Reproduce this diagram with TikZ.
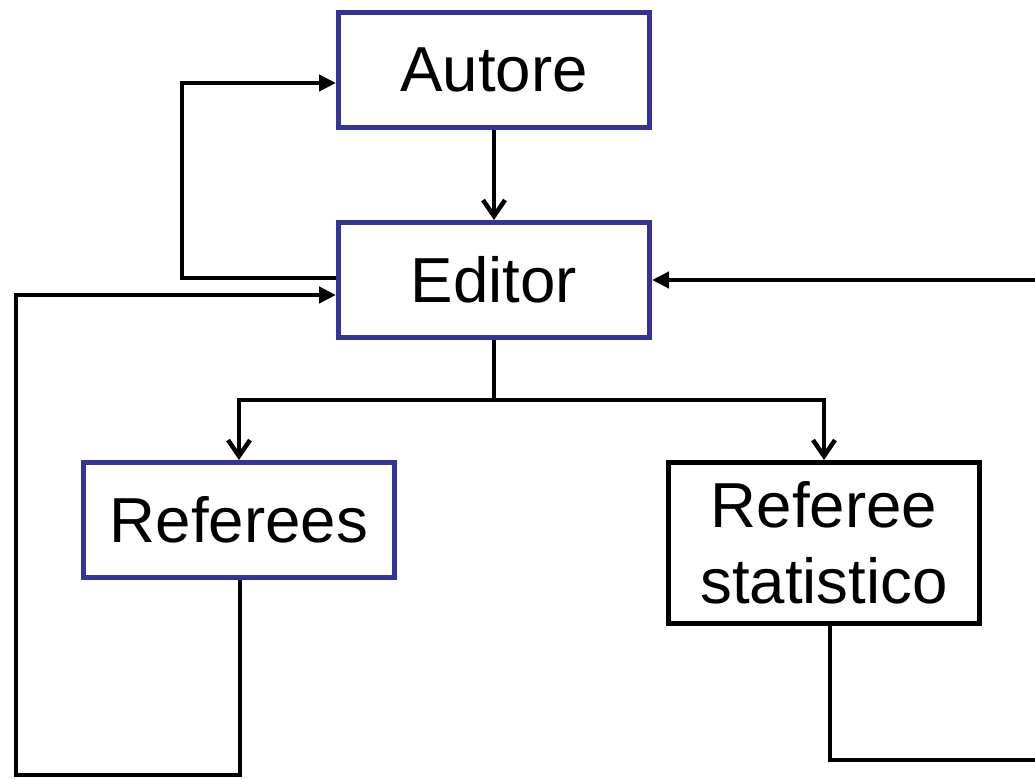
\documentclass[tikz,border=0pt]{standalone}
\usepackage{fontspec}
\setmainfont{Liberation Sans}
\usetikzlibrary{arrows.meta}
\definecolor{boxblue}{RGB}{51,51,153}
\begin{document}
\begin{tikzpicture}[x=0.02cm,y=-0.02cm,
  box/.style={draw=boxblue,line width=5*0.02cm,minimum width=311*0.02cm,
    minimum height=115*0.02cm,inner sep=0pt,align=center,
    font=\fontsize{36.2pt}{43.5pt}\selectfont},
  blackbox/.style={box,draw=black},
  link/.style={line width=4.5*0.02cm,line join=miter},
  filled/.style={link,-{Triangle[length=17*0.02cm,width=16*0.02cm]}},
  open/.style={link,-{Straight Barb[length=16*0.02cm,width=22*0.02cm,line width=4.5*0.02cm]}}]
\useasboundingbox (0,0) rectangle (1035,778);
\clip (0,0) rectangle (1035,778);

\node[box] (autore) at (494,70) {Autore};
\node[box] (editor) at (494,280) {Editor};
\node[box] (referees) at (239,520) {Referees};
\node[blackbox,minimum height=161*0.02cm] (stat) at (824,543) {Referee\\statistico};

% Autore sends the paper to the editor
\draw[open] (autore.south) -- (editor.north);

% editor forwards to the referees
\coordinate (split) at (494,400);
\draw[link] (editor.south) -- (split);
\draw[open] (split) -| (referees.north);
\draw[open] (split) -| (stat.north);

% editor answers the author
\coordinate (backL) at (182,278);
\draw[filled] (editor.west |- backL) -- (backL) |- (autore.west |- 0,83);

% referees report back to the editor
\coordinate (refB) at (240,775);
\coordinate (outL) at (16,775);
\draw[filled] (referees.south -| refB) -- (refB) -- (outL) |- (editor.west |- 0,295);

% statistical referee reports back to the editor
\coordinate (statB) at (830,760);
\coordinate (outR) at (1045,760);
\draw[filled] (stat.south -| statB) -- (statB) -- (outR) |- (editor.east |- 0,280);
\end{tikzpicture}
\end{document}
